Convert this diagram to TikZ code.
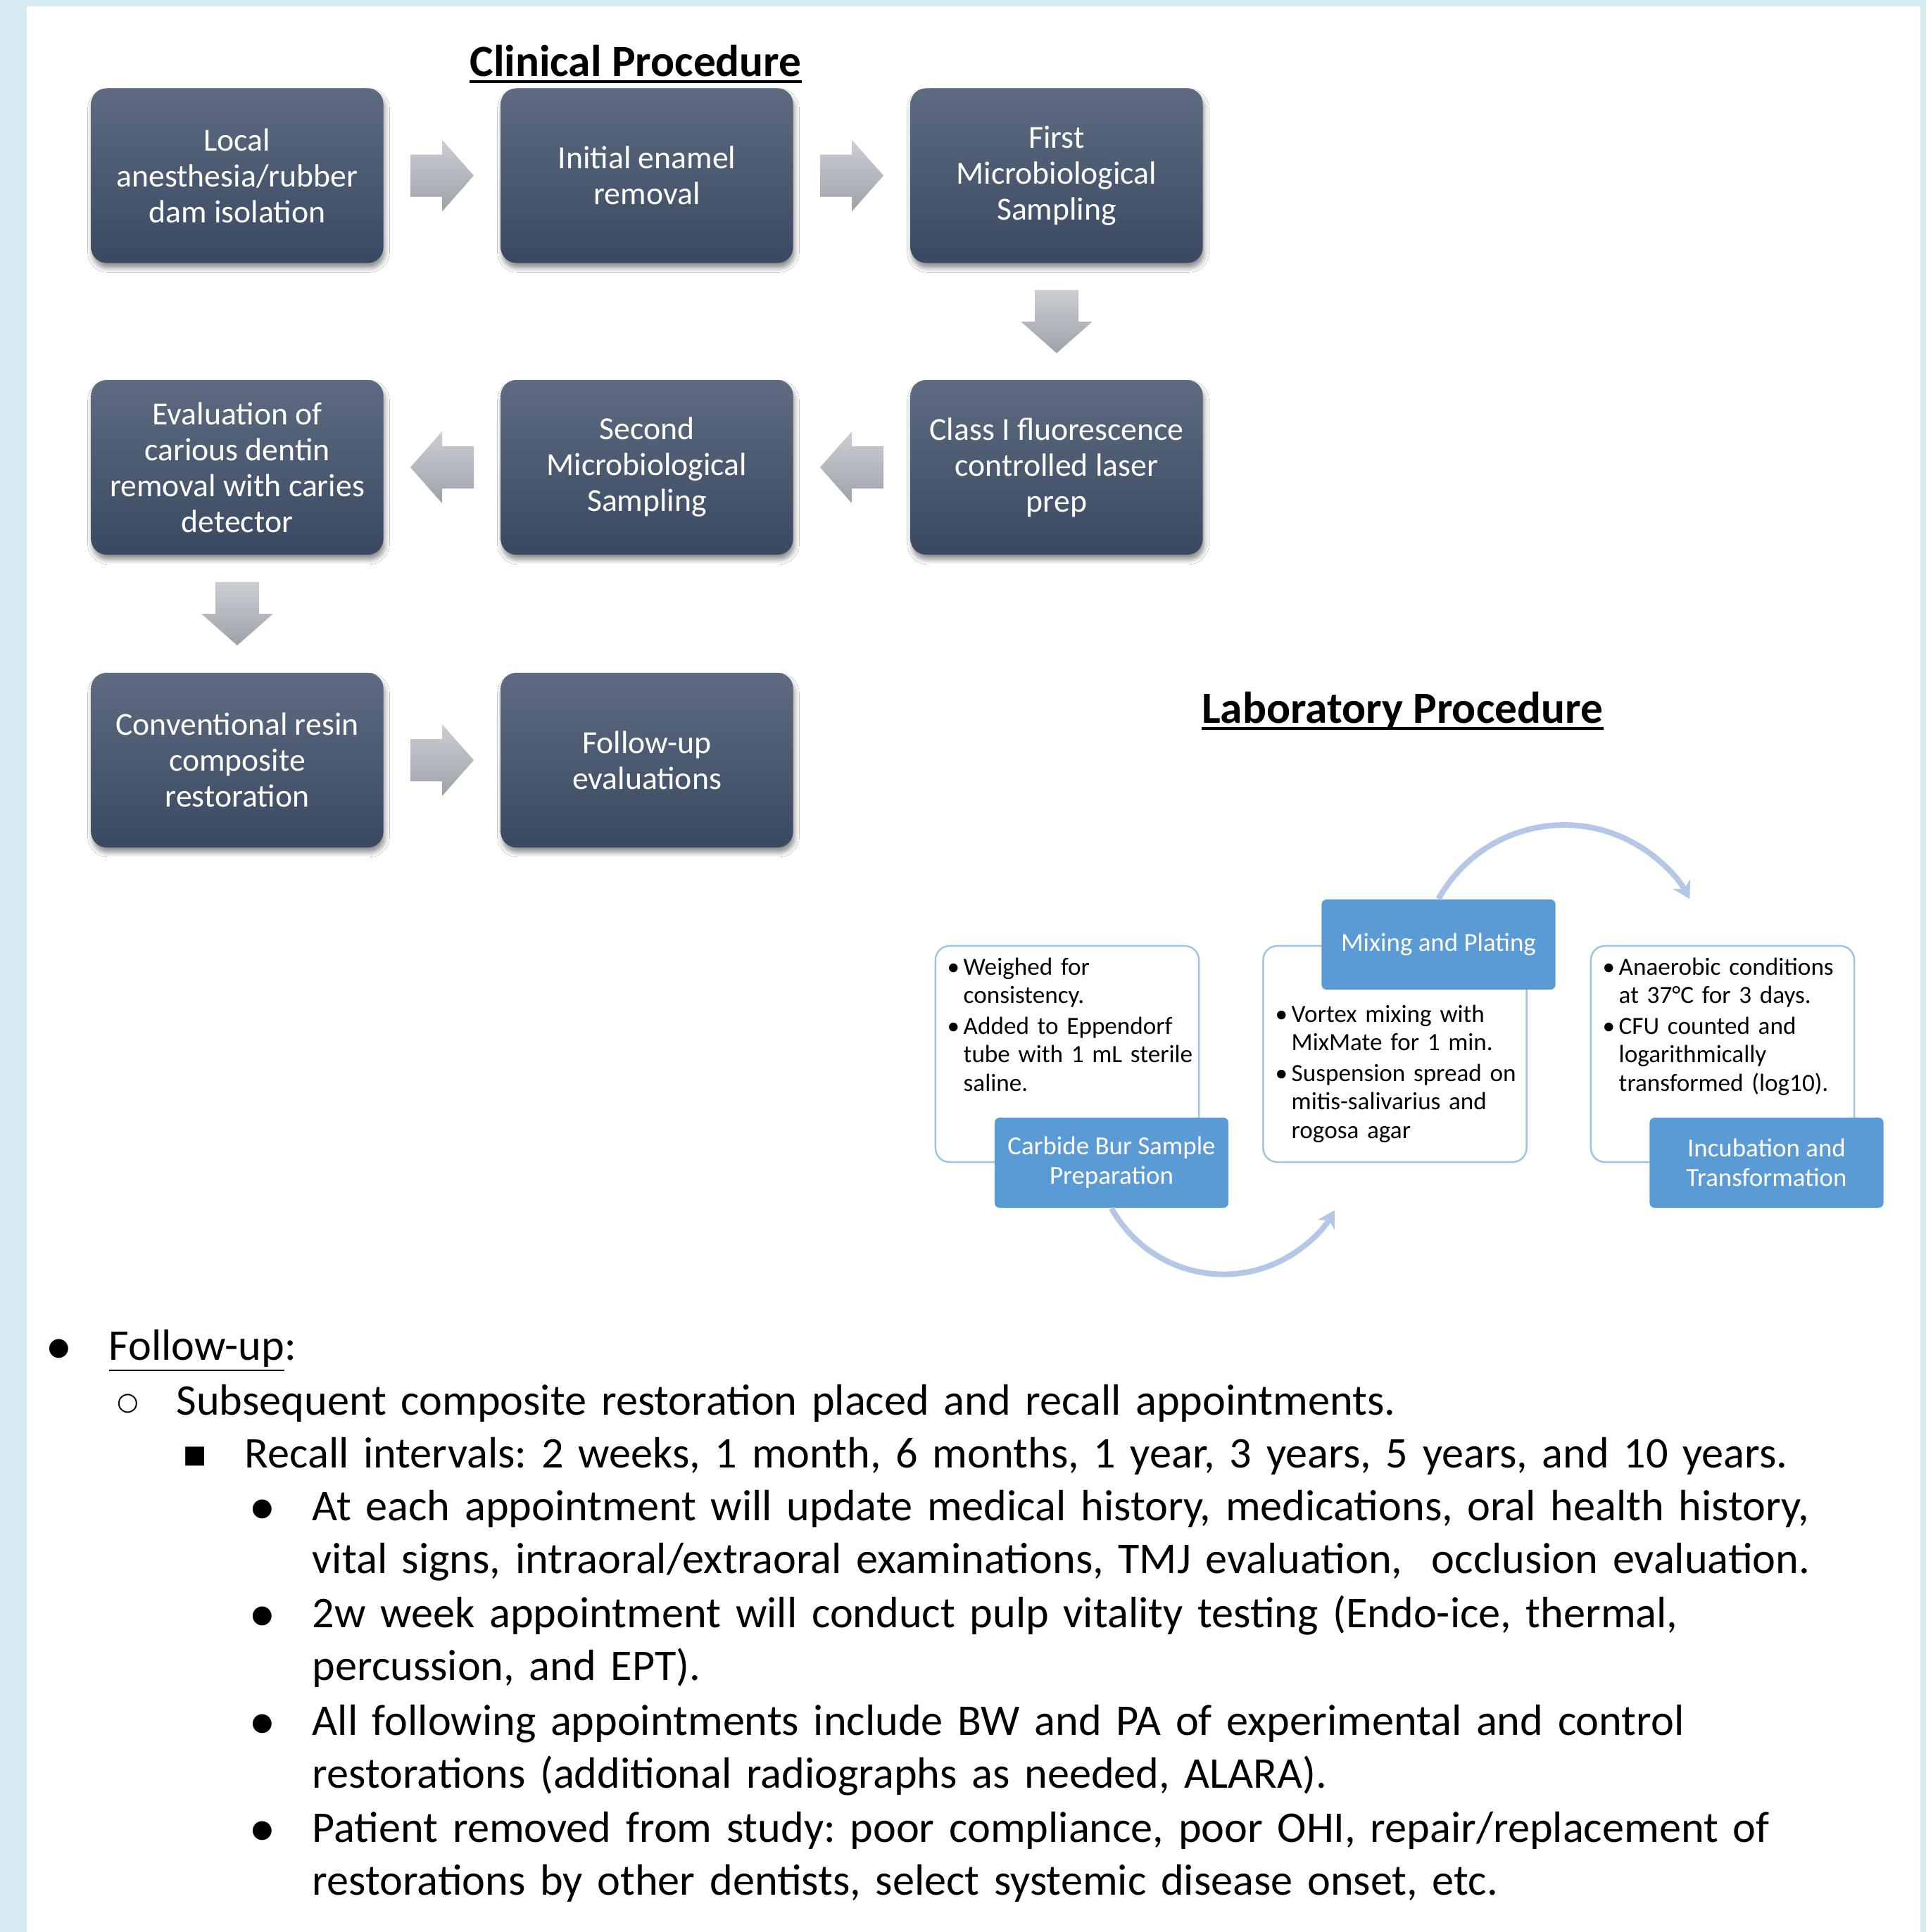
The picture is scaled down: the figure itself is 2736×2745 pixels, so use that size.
\documentclass[tikz,border=0pt]{standalone}
\usepackage{fontspec}
\setmainfont{Carlito}
\newfontfamily\symfont{DejaVu Sans}
\frenchspacing
\usetikzlibrary{arrows.meta,calc,shadows.blur}
\definecolor{pageedge}{HTML}{D5EAF1}
\definecolor{boxtop}{HTML}{5E6B80}
\definecolor{boxbot}{HTML}{3A4962}
\definecolor{arrowtop}{HTML}{CBCED3}
\definecolor{arrowbot}{HTML}{9DA2AA}
\definecolor{tagblue}{HTML}{5B9BD5}
\definecolor{noteline}{HTML}{9DC3E6}
\definecolor{cyclearc}{HTML}{B4C7E7}
\newcommand{\labitem}[1]{\makebox[2.3mm][l]{\textbullet}\begin{tabular}[t]{@{}l@{}}#1\end{tabular}}
\tikzset{
  clinbox/.style={rectangle, rounded corners=2.2mm, minimum width=4.15cm, minimum height=2.48cm,
    inner sep=1mm, top color=boxtop, bottom color=boxbot, text=white, align=center,
    font=\fontsize{13}{14.5}\selectfont,
    blur shadow={shadow xshift=0.2mm, shadow yshift=-0.7mm, shadow blur steps=6, shadow opacity=45}},
  arrowshade/.style={top color=arrowtop, bottom color=arrowbot},
  rarrow/.pic={\shade[arrowshade] (-45,-30) -- (0,-30) -- (0,-51) -- (45,0) -- (0,51) -- (0,30) -- (-45,30) -- cycle;},
  larrow/.pic={\shade[arrowshade] (45,-30) -- (0,-30) -- (0,-51) -- (-45,0) -- (0,51) -- (0,30) -- (45,30) -- cycle;},
  darrow/.pic={\shade[arrowshade] (-31,-45) -- (31,-45) -- (31,0) -- (51,0) -- (0,45) -- (-51,0) -- (-31,0) -- cycle;},
  sectitle/.style={inner sep=0pt, anchor=base, font=\fontsize{18}{21.6}\selectfont\bfseries},
  notebox/.style={rectangle, draw=noteline, line width=0.7pt, fill=white, rounded corners=2mm,
    minimum width=3.74cm, minimum height=3.07cm},
  labtag/.style={rectangle, fill=tagblue, rounded corners=0.7mm, minimum width=3.32cm,
    minimum height=1.28cm, text=white, align=center, font=\fontsize{10.5}{12}\selectfont},
  labnote/.style={inner sep=0pt, anchor=base west, text width=3.5cm, align=left,
    font=\fontsize{10}{11.5}\selectfont},
  cyclearrow/.style={draw=cyclearc, line width=0.8mm, -{Stealth[length=2.4mm, width=2.8mm]}},
  bodytext/.style={inner sep=0pt, anchor=base west, text width=23.5cm, align=left,
    font=\fontsize{17.7}{21.6}\selectfont},
  bulletsym/.style={inner sep=0pt, font=\symfont\fontsize{10}{12}\selectfont}
}
\begin{document}
\begin{tikzpicture}[x=0.01cm, y=-0.01cm]
  \useasboundingbox (0,0) rectangle (2736,2745);
  \fill[pageedge] (0,0) rectangle (2736,2745);
  \fill[white] (38,9) rectangle (2728,2745);

  \node[sectitle] (clintitle) at (903,108) {Clinical Procedure};
  \draw[line width=1.1pt] ([yshift=-2.2pt]clintitle.base west) -- ([yshift=-2.2pt]clintitle.base east);

  \node[clinbox] (anest)   at (337,249.5)  {Local\\anesthesia/rubber\\dam isolation};
  \node[clinbox] (enamel)  at (919,249.5)  {Initial enamel\\removal};
  \node[clinbox] (sample1) at (1501,249.5) {First\\Microbiological\\Sampling};
  \node[clinbox] (laser)   at (1501,664)   {Class I fluorescence\\controlled laser\\prep};
  \node[clinbox] (sample2) at (919,664)    {Second\\Microbiological\\Sampling};
  \node[clinbox] (dentin)  at (337,664)    {Evaluation of\\carious dentin\\removal with caries\\detector};
  \node[clinbox] (resin)   at (337,1080)   {Conventional resin\\composite\\restoration};
  \node[clinbox] (follow)  at (919,1080)   {Follow-up\\evaluations};

  \pic at ($(anest.east)!0.5!(enamel.west)$) {rarrow};
  \pic at ($(enamel.east)!0.5!(sample1.west)$) {rarrow};
  \pic at ($(sample1.south)!0.5!(laser.north)$) {darrow};
  \pic at ($(laser.west)!0.5!(sample2.east)$) {larrow};
  \pic at ($(sample2.west)!0.5!(dentin.east)$) {larrow};
  \pic at ($(dentin.south)!0.5!(resin.north)$) {darrow};
  \pic at ($(resin.east)!0.5!(follow.west)$) {rarrow};

  \node[sectitle] (labtitle) at (1992,1027) {Laboratory Procedure};
  \draw[line width=1.1pt] ([yshift=-2.2pt]labtitle.base west) -- ([yshift=-2.2pt]labtitle.base east);

  \node[notebox] (prepbox)   at (1516,1497.5) {};
  \node[notebox] (mixbox)    at (1981.5,1497.5) {};
  \node[notebox] (incubbox)  at (2447,1497.5) {};
  \node[labnote] (prepnote)  at (1345,1385)
    {\labitem{Weighed for\\consistency.}\par\labitem{Added to Eppendorf\\tube with 1 mL sterile\\saline.}};
  \node[labnote] (mixnote)   at (1811,1452)
    {\labitem{Vortex mixing with\\MixMate for 1 min.}\par\labitem{Suspension spread on\\mitis-salivarius and\\rogosa agar}};
  \node[labnote] (incubnote) at (2276,1385)
    {\labitem{Anaerobic conditions\\at 37°C for 3 days.}\par\labitem{CFU counted and\\logarithmically\\transformed (log10).}};
  \node[labtag] (preptag)  at (1579,1652)   {Carbide Bur Sample\\Preparation};
  \node[labtag] (mixtag)   at (2043.5,1342) {Mixing and Plating};
  \node[labtag] (incubtag) at (2509.5,1652) {Incubation and\\Transformation};
  \draw[cyclearrow] (preptag.south) arc[start angle=151, end angle=30, radius=182];
  \draw[cyclearrow] (mixtag.north) arc[start angle=209, end angle=331, radius=204];

  \node[bulletsym] (dot0) at (84,1916) {●};
  \node[bodytext] (fu) at (154,1932) {\underline{Follow-up}:};
  \node[bulletsym] (ring1) at (182,1994) {○};
  \node[bodytext] (subseq) at (250,2010) {Subsequent composite restoration placed and recall appointments.};
  \node[bulletsym] (sq2) at (277,2069) {■};
  \node[bodytext] (recall) at (347,2085) {Recall intervals: 2 weeks, 1 month, 6 months, 1 year, 3 years, 5 years, and 10 years.};
  \node[bulletsym] (dot3) at (373,2144) {●};
  \node[bodytext] (update) at (443,2160)
    {At each appointment will update medical history, medications, oral health history,\\vital signs, intraoral/extraoral examinations, TMJ evaluation,\ \ occlusion evaluation.};
  \node[bulletsym] (dot4) at (373,2296) {●};
  \node[bodytext] (pulp) at (443,2312)
    {2w week appointment will conduct pulp vitality testing (Endo-ice, thermal,\\percussion, and EPT).};
  \node[bulletsym] (dot5) at (373,2449) {●};
  \node[bodytext] (xray) at (443,2465)
    {All following appointments include BW and PA of experimental and control\\restorations (additional radiographs as needed, ALARA).};
  \node[bulletsym] (dot6) at (373,2601) {●};
  \node[bodytext] (removed) at (443,2617)
    {Patient removed from study: poor compliance, poor OHI, repair/replacement of\\restorations by other dentists, select systemic disease onset, etc.};
\end{tikzpicture}
\end{document}
